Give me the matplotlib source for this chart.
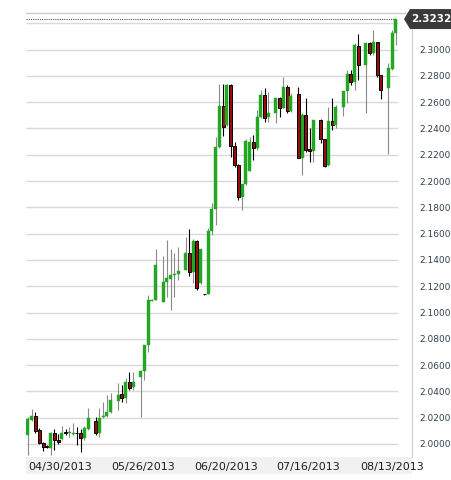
import numpy as np
import matplotlib
matplotlib.use("Agg")
import matplotlib.pyplot as plt
from matplotlib.patches import Rectangle, Polygon
from matplotlib.transforms import IdentityTransform

nan = np.nan

# daily candles, one slot per session (nan = empty slot)
opens = [2.0068, 2.0183, 2.0213, 2.0106, 2.0008, 1.9985, 1.9970, 2.0084, 2.0030, 2.0038,
         2.0094, 2.0084, 2.0076, 2.0084, 2.0084, 2.0046, 2.0114, nan, 2.0175, 2.0084,
         2.0202, 2.0215, 2.0243, nan, 2.0329, 2.0380, 2.0348, 2.0474, 2.0431, nan,
         2.0507, 2.0555, 2.0753, 2.1090, 2.1095, nan, 2.1082, 2.1230, 2.1255, 2.1289,
         2.1291, nan, 2.1323, 2.1455, 2.1310, 2.1546, 2.1222, 2.1142, 2.1138, 2.1622,
         2.1787, 2.2261, 2.2570, 2.2426, 2.2730, 2.2266, 2.2122, 2.1881, 2.1977, 2.2078,
         2.2299, 2.2249, 2.2489, 2.2654, 2.2484, nan, 2.2515, 2.2633, 2.2557, 2.2717,
         2.2535, nan, 2.2659, 2.2177, 2.2502, 2.2243, 2.2230, nan, 2.2464, 2.2319,
         2.2122, 2.2456, 2.2426, nan, 2.2565, 2.2684, 2.2814, 2.2755, 2.3027, nan,
         2.2882, 2.3047, 2.2971, 2.3059, 2.2806, nan, 2.2705, 2.2849, 2.3123]
highs = [2.0205, 2.0266, 2.0243, 2.0122, 2.0015, 1.9992, 2.0091, 2.0114, 2.0076, 2.0137,
         2.0114, 2.0129, 2.0160, 2.0129, 2.0114, 2.0137, 2.0274, nan, 2.0205, 2.0274,
         2.0319, 2.0373, 2.0388, nan, 2.0464, 2.0449, 2.0502, 2.0550, 2.0550, nan,
         2.0563, 2.0753, 2.1133, 2.1099, 2.1481, nan, 2.1430, 2.1551, 2.1481, 2.1452,
         2.1500, nan, 2.1576, 2.1633, 2.1557, 2.1551, 2.1483, 2.1142, 2.1643, 2.1830,
         2.2337, 2.2738, 2.2738, 2.2738, 2.2738, 2.2299, 2.2127, 2.1977, 2.2317, 2.2337,
         2.2350, 2.2540, 2.2692, 2.2705, 2.2679, nan, 2.2633, 2.2641, 2.2793, 2.2730,
         2.2667, nan, 2.2717, 2.2515, 2.2633, 2.2401, 2.2464, nan, 2.2469, 2.2319,
         2.2565, 2.2629, 2.2578, nan, 2.2684, 2.2844, 2.2844, 2.3047, 2.3116, nan,
         2.3047, 2.3059, 2.3148, 2.3059, 2.2806, nan, 2.2895, 2.3148, 2.3232]
lows = [1.9916, 2.0175, 2.0084, 2.0000, 1.9947, 1.9970, 1.9916, 1.9954, 2.0000, 2.0030,
        2.0068, 2.0053, 2.0068, 1.9992, 1.9939, 2.0030, 2.0106, nan, 2.0068, 2.0053,
        2.0198, 2.0208, 2.0236, nan, 2.0259, 2.0322, 2.0312, 2.0411, 2.0411, nan,
        2.0208, 2.0487, 2.0702, 2.1084, 2.1095, nan, 2.1082, 2.1120, 2.1019, 2.1120,
        2.1247, nan, 2.1323, 2.1278, 2.1222, 2.1171, 2.1217, 2.1133, 2.1137, 2.1589,
        2.1665, 2.2249, 2.2342, 2.2418, 2.2180, 2.2109, 2.1856, 2.1779, 2.1970, 2.2076,
        2.2160, 2.2236, 2.2477, 2.2451, 2.2451, nan, 2.2439, 2.2489, 2.2553, 2.2515,
        2.2527, nan, 2.2173, 2.2046, 2.2223, 2.2147, 2.2147, nan, 2.2287, 2.2104,
        2.2114, 2.2388, 2.2401, nan, 2.2494, 2.2591, 2.2730, 2.2692, 2.2768, nan,
        2.2515, 2.2958, 2.2958, 2.2793, 2.2621, nan, 2.2203, 2.2844, 2.3034]
closes = [2.0190, 2.0213, 2.0099, 2.0008, 1.9977, 1.9977, 2.0084, 2.0030, 2.0015, 2.0084,
          2.0081, 2.0087, 2.0080, 2.0080, 2.0046, 2.0122, 2.0198, nan, 2.0084, 2.0198,
          2.0215, 2.0243, 2.0335, nan, 2.0373, 2.0348, 2.0471, 2.0424, 2.0474, nan,
          2.0555, 2.0753, 2.1095, 2.1095, 2.1361, nan, 2.1230, 2.1260, 2.1285, 2.1293,
          2.1316, nan, 2.1450, 2.1310, 2.1546, 2.1184, 2.1481, 2.1137, 2.1622, 2.1787,
          2.2261, 2.2570, 2.2408, 2.2730, 2.2266, 2.2122, 2.1881, 2.1977, 2.2306, 2.2299,
          2.2249, 2.2489, 2.2654, 2.2477, 2.2515, nan, 2.2633, 2.2557, 2.2717, 2.2535,
          2.2646, nan, 2.2177, 2.2502, 2.2236, 2.2230, 2.2464, nan, 2.2319, 2.2114,
          2.2456, 2.2426, 2.2565, nan, 2.2684, 2.2814, 2.2755, 2.3034, 2.2882, nan,
          2.3047, 2.2971, 2.3055, 2.2806, 2.2692, nan, 2.2857, 2.3123, 2.3232]

date_labels = ['04/30/2013', '05/26/2013', '06/20/2013', '07/16/2013', '08/13/2013']
date_slots = [8.65, 30.6, 52.9, 74.7, 97.1]
price_levels = [2.00, 2.02, 2.04, 2.06, 2.08, 2.10, 2.12, 2.14, 2.16,
                2.18, 2.20, 2.22, 2.24, 2.26, 2.28, 2.30, 2.32]

UP = '#22a722'
DOWN = '#9a0b0b'
GRID = '#d9d9d9'

W, H = 452, 480
fig = plt.figure(figsize=(W / 100, H / 100), dpi=100)
ax = fig.add_axes([26 / W, 23 / H, 386 / W, 444 / H])

x_min, x_max = -0.53, 102.27
ax.set_xlim(x_min, x_max)
ax.set_ylim(1.9901, 2.3278)

# horizontal grid stops short of the price scale
ax.hlines(price_levels, x_min, 98.6, color=GRID, lw=1.0, zorder=0)

body_w = 0.8
for i in range(len(opens)):
    o, h, l, c = opens[i], highs[i], lows[i], closes[i]
    if np.isnan(o):
        continue
    up = c >= o
    ax.vlines(i, l, h, color='#8a8a8a' if up else '#000000', lw=0.8, zorder=2)
    bottom = min(o, c)
    height = max(abs(c - o), 0.0007)
    if up:
        ax.add_patch(Rectangle((i - body_w / 2, bottom), body_w, height,
                               facecolor=UP, edgecolor=UP, lw=0.3, zorder=3))
    else:
        ax.add_patch(Rectangle((i - body_w / 2, bottom), body_w, height,
                               facecolor=DOWN, edgecolor='#000000', lw=0.7, zorder=3))

last_price = closes[-1]
ax.hlines(last_price, x_min, 98.4, color='#555555', lw=0.8,
          linestyles=(0, (1, 1)), zorder=1)

# frame
for side in ['left', 'bottom']:
    ax.spines[side].set_visible(False)
ax.spines['top'].set_color('#cccccc')
ax.spines['right'].set_color('#cccccc')
ax.spines['top'].set_linewidth(1.0)
ax.spines['right'].set_linewidth(0.8)

ax.set_xticks(date_slots, date_labels)
ax.tick_params(axis='x', length=0, pad=3.5, labelsize=8, labelcolor='#1e1e1e')
ax.yaxis.tick_right()
ax.set_yticks(price_levels[:-1], ['%.4f' % p for p in price_levels[:-1]])
ax.tick_params(axis='y', length=0, pad=5, labelsize=6.5, labelcolor='#33424c')

# light band behind the date labels
ax.add_patch(Rectangle((0, -17 / 444), 1, 17 / 444, transform=ax.transAxes,
                       clip_on=False, facecolor='#f1f1f1', edgecolor='none', zorder=-1))

# last price tag
fig.canvas.draw()
yd = ax.transData.transform((0, last_price))[1]
tag = Polygon([(404, yd), (410, yd + 10), (452, yd + 10), (452, yd - 10), (410, yd - 10)],
              closed=True, transform=IdentityTransform(), facecolor='#3a3a3a',
              edgecolor='none', zorder=10)
fig.add_artist(tag)
fig.text(431 / W, yd / H, '%.4f' % last_price, ha='center', va='center',
         color='white', fontsize=7.5, fontweight='bold', zorder=11)

fig.savefig('out.png', dpi=100)
